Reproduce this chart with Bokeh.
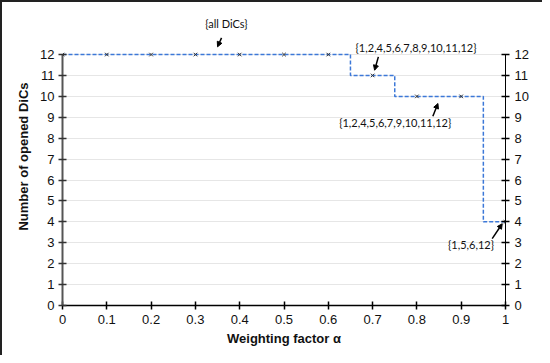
from bokeh.plotting import figure
from bokeh.models import LinearAxis, FixedTicker, Label, Arrow, NormalHead, Range1d
from bokeh.embed import file_html
from bokeh.resources import INLINE

# ---- data ----
alpha = [0.0, 0.1, 0.2, 0.3, 0.4, 0.5, 0.6, 0.7, 0.8, 0.9, 1.0]
n_dics = [12, 12, 12, 12, 12, 12, 12, 11, 10, 10, 4]
x_ticks = [0.0, 0.1, 0.2, 0.3, 0.4, 0.5, 0.6, 0.7, 0.8, 0.9, 1.0]
x_tick_labels = ["0", "0.1", "0.2", "0.3", "0.4", "0.5", "0.6", "0.7", "0.8", "0.9", "1"]
y_ticks = [0, 1, 2, 3, 4, 5, 6, 7, 8, 9, 10, 11, 12]

ann_texts = ["{all DiCs}", "{1,2,4,5,6,7,8,9,10,11,12}", "{1,2,4,5,6,7,9,10,11,12}", "{1,5,6,12}"]
ann_x = [0.37, 0.798, 0.751, 0.922]
ann_y = [13.48, 12.32, 8.73, 2.92]
arr_x0 = [0.359, 0.713, 0.836, 0.970]
arr_y0 = [12.80, 11.89, 9.05, 3.20]
arr_x1 = [0.350, 0.7045, 0.8475, 0.9926]
arr_y1 = [12.37, 11.25, 9.66, 3.91]

p = figure(width=542, height=355, x_range=Range1d(0, 1), y_range=Range1d(0, 14.25),
           output_backend="svg", toolbar_location=None,
           min_border_left=62, min_border_right=37, min_border_top=7, min_border_bottom=50)
p.outline_line_color = None
p.background_fill_color = "white"
p.border_fill_alpha = 0
p.styles = {"box-shadow": "inset 2px 2px 0 #222222", "background-color": "white"}

p.xgrid.visible = False
p.ygrid.ticker = FixedTicker(ticks=y_ticks)
p.ygrid.grid_line_color = "#e6e6e6"
p.ygrid.grid_line_width = 1

# bottom axis
xa = p.xaxis[0]
xa.ticker = FixedTicker(ticks=x_ticks)
xa.major_label_overrides = {t: l for t, l in zip(x_ticks, x_tick_labels)}
xa.axis_label = "Weighting factor α"
xa.axis_line_color = "black"
xa.axis_line_width = 1.5
xa.major_tick_in = 4
xa.major_tick_out = 4
xa.major_tick_line_color = "black"
xa.major_tick_line_width = 1.5
xa.minor_tick_line_color = None
xa.major_label_standoff = 5
xa.axis_label_standoff = 4

# left axis
ya = p.yaxis[0]
ya.ticker = FixedTicker(ticks=y_ticks)
ya.bounds = (0, 12)
ya.axis_label = "Number of opened DiCs"
ya.axis_line_color = "#555555"
ya.axis_line_width = 2
ya.major_tick_in = 4
ya.major_tick_out = 4
ya.major_tick_line_color = "#333333"
ya.major_tick_line_width = 1.5
ya.minor_tick_line_color = None
ya.major_label_standoff = 4
ya.axis_label_standoff = 6

# right axis
ra = LinearAxis(ticker=FixedTicker(ticks=y_ticks), bounds=(0, 12))
ra.axis_line_color = "black"
ra.axis_line_width = 1
ra.major_tick_in = 4
ra.major_tick_out = 4
ra.major_tick_line_color = "black"
ra.major_tick_line_width = 1.5
ra.minor_tick_line_color = None
ra.major_label_standoff = 5
p.add_layout(ra, "right")

for ax in (xa, ya, ra):
    ax.major_label_text_font = "Liberation Sans"
    ax.major_label_text_font_size = "13px"
    ax.major_label_text_color = "#111111"
    ax.axis_label_text_font = "Liberation Sans"
    ax.axis_label_text_font_size = "13px"
    ax.axis_label_text_font_style = "bold"
    ax.axis_label_text_color = "#111111"

p.step(alpha, n_dics, mode="center", line_color="#3c78d8", line_width=1.5, line_dash="4 2")
p.scatter(alpha, n_dics, marker="x", size=5, line_color="#333333", line_width=1)

for t, x, y in zip(ann_texts, ann_x, ann_y):
    p.add_layout(Label(x=x, y=y, text=t, text_align="center", text_baseline="middle",
                       text_font="Lato", text_font_size="11px", text_color="#111111"))

for x0, y0, x1, y1 in zip(arr_x0, arr_y0, arr_x1, arr_y1):
    p.add_layout(Arrow(end=NormalHead(size=5, fill_color="black", line_color="black"),
                       x_start=x0, y_start=y0, x_end=x1, y_end=y1,
                       line_color="black", line_width=1.5))

open("out.html", "w").write(file_html(p, INLINE))
